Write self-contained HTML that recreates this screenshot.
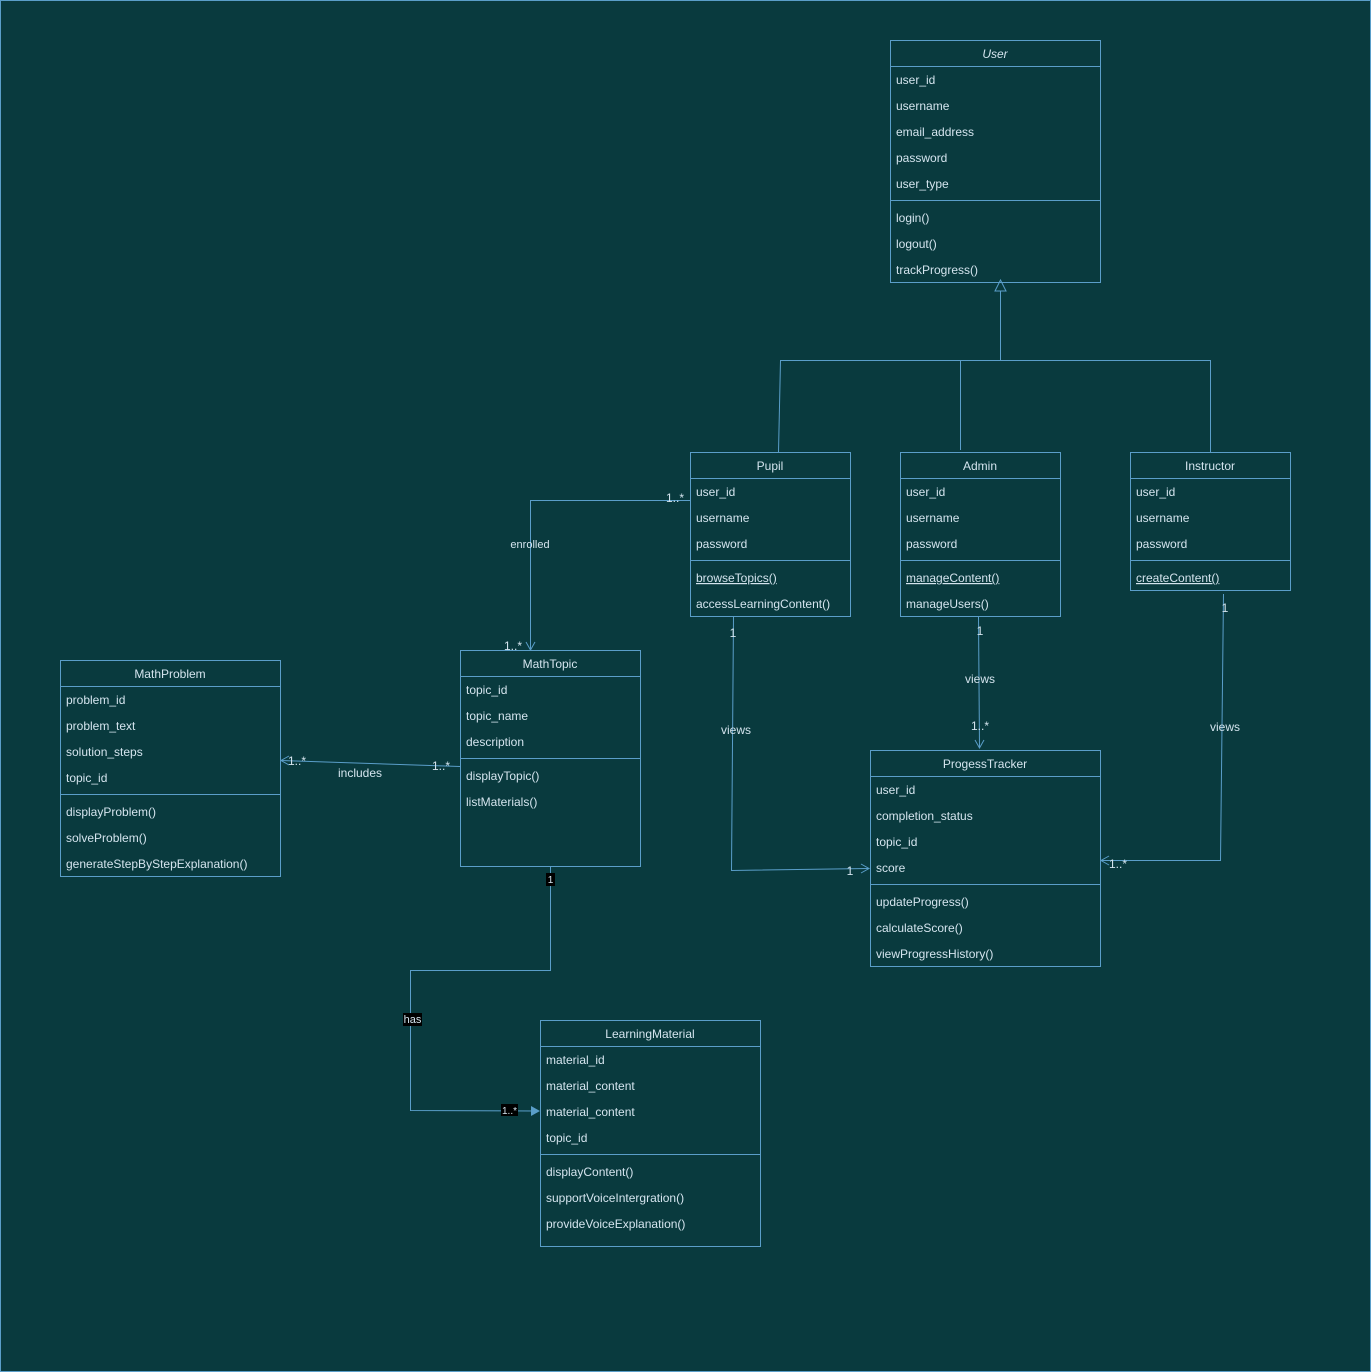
<!DOCTYPE html>
<html><head><meta charset="utf-8"><style>
html,body{margin:0;padding:0;background:#093a3e;}
svg{display:block;}
text{font-family:"Liberation Sans",sans-serif;font-size:12px;fill:#d4e4ee;}
</style></head><body>
<svg width="1371" height="1372" viewBox="0 0 1371 1372" xmlns="http://www.w3.org/2000/svg">
<rect x="0.5" y="0.5" width="1370" height="1371" fill="#093a3e" stroke="#5a9ec9"/>
<g fill="none" stroke="#5a9ec9" stroke-width="1">
<!-- User -->
<rect x="890.5" y="40.5" width="210" height="242"/><line x1="890" y1="66.5" x2="1100" y2="66.5"/><line x1="890" y1="200.5" x2="1100" y2="200.5"/>
<!-- Pupil -->
<rect x="690.5" y="452.5" width="160" height="164"/><line x1="690" y1="478.5" x2="850" y2="478.5"/><line x1="690" y1="560.5" x2="850" y2="560.5"/>
<!-- Admin -->
<rect x="900.5" y="452.5" width="160" height="164"/><line x1="900" y1="478.5" x2="1060" y2="478.5"/><line x1="900" y1="560.5" x2="1060" y2="560.5"/>
<!-- Instructor -->
<rect x="1130.5" y="452.5" width="160" height="138"/><line x1="1130" y1="478.5" x2="1290" y2="478.5"/><line x1="1130" y1="560.5" x2="1290" y2="560.5"/>
<!-- MathTopic -->
<rect x="460.5" y="650.5" width="180" height="216"/><line x1="460" y1="676.5" x2="640" y2="676.5"/><line x1="460" y1="758.5" x2="640" y2="758.5"/>
<!-- MathProblem -->
<rect x="60.5" y="660.5" width="220" height="216"/><line x1="60" y1="686.5" x2="280" y2="686.5"/><line x1="60" y1="794.5" x2="280" y2="794.5"/>
<!-- ProgessTracker -->
<rect x="870.5" y="750.5" width="230" height="216"/><line x1="870" y1="776.5" x2="1100" y2="776.5"/><line x1="870" y1="884.5" x2="1100" y2="884.5"/>
<!-- LearningMaterial -->
<rect x="540.5" y="1020.5" width="220" height="226"/><line x1="540" y1="1046.5" x2="760" y2="1046.5"/><line x1="540" y1="1154.5" x2="760" y2="1154.5"/>

<!-- inheritance -->
<polyline points="778.5,452 780.5,360.5 1210.5,360.5 1210.5,452"/>
<line x1="960.5" y1="360" x2="960.5" y2="450"/>
<line x1="1000.5" y1="360" x2="1000.5" y2="291"/>
<polygon points="1000.5,280 995,291 1006,291"/>
<!-- enrolled -->
<polyline points="690,500.5 530.5,500.5 530.5,650"/>
<polyline points="526,642 530.5,650 535,642"/>
<!-- pupil views -->
<polyline points="733.5,617 731.5,870.5 868,868.5"/>
<polyline points="861,864 869,868.5 861,873"/>
<!-- admin views -->
<line x1="978.5" y1="617" x2="979.5" y2="748"/>
<polyline points="975,740 979.5,748 984,740"/>
<!-- instructor views -->
<polyline points="1223.5,594 1220.5,860.5 1101,860.5"/>
<polyline points="1109,856 1101,860.5 1109,865"/>
<!-- includes -->
<line x1="460" y1="766.5" x2="281" y2="760.5"/>
<polyline points="289,756 281,760.5 289,765"/>
<!-- has -->
<polyline points="550.5,866 550.5,970.5 410.5,970.5 410.5,1110.5 538,1111"/>
</g>
<polygon points="540,1111 531,1106 531,1116" fill="#5a9ec9"/>

<g text-anchor="middle">
<text x="995" y="58" font-style="italic">User</text>
<text x="770" y="470">Pupil</text>
<text x="980" y="470">Admin</text>
<text x="1210" y="470">Instructor</text>
<text x="550" y="668">MathTopic</text>
<text x="170" y="678">MathProblem</text>
<text x="985" y="768">ProgessTracker</text>
<text x="650" y="1038">LearningMaterial</text>
</g>
<g>
<text x="896" y="84">user_id</text><text x="896" y="110">username</text><text x="896" y="136">email_address</text><text x="896" y="162">password</text><text x="896" y="188">user_type</text>
<text x="896" y="222">login()</text><text x="896" y="248">logout()</text><text x="896" y="274">trackProgress()</text>

<text x="696" y="496">user_id</text><text x="696" y="522">username</text><text x="696" y="548">password</text>
<text x="696" y="582" text-decoration="underline">browseTopics()</text><text x="696" y="608">accessLearningContent()</text>

<text x="906" y="496">user_id</text><text x="906" y="522">username</text><text x="906" y="548">password</text>
<text x="906" y="582" text-decoration="underline">manageContent()</text><text x="906" y="608">manageUsers()</text>

<text x="1136" y="496">user_id</text><text x="1136" y="522">username</text><text x="1136" y="548">password</text>
<text x="1136" y="582" text-decoration="underline">createContent()</text>

<text x="466" y="694">topic_id</text><text x="466" y="720">topic_name</text><text x="466" y="746">description</text>
<text x="466" y="780">displayTopic()</text><text x="466" y="806">listMaterials()</text>

<text x="66" y="704">problem_id</text><text x="66" y="730">problem_text</text><text x="66" y="756">solution_steps</text><text x="66" y="782">topic_id</text>
<text x="66" y="816">displayProblem()</text><text x="66" y="842">solveProblem()</text><text x="66" y="868">generateStepByStepExplanation()</text>

<text x="876" y="794">user_id</text><text x="876" y="820">completion_status</text><text x="876" y="846">topic_id</text><text x="876" y="872">score</text>
<text x="876" y="906">updateProgress()</text><text x="876" y="932">calculateScore()</text><text x="876" y="958">viewProgressHistory()</text>

<text x="546" y="1064">material_id</text><text x="546" y="1090">material_content</text><text x="546" y="1116">material_content</text><text x="546" y="1142">topic_id</text>
<text x="546" y="1176">displayContent()</text><text x="546" y="1202">supportVoiceIntergration()</text><text x="546" y="1228">provideVoiceExplanation()</text>
</g>
<g text-anchor="middle" style="font-size:10px">
<text x="530" y="548" style="font-size:11px">enrolled</text>
<text x="675" y="502">1..*</text>
<text x="513" y="650">1..*</text>
<text x="733" y="637">1</text>
<text x="736" y="734">views</text>
<text x="850" y="875">1</text>
<text x="980" y="635">1</text>
<text x="980" y="683">views</text>
<text x="980" y="730">1..*</text>
<text x="1225" y="612">1</text>
<text x="1225" y="731">views</text>
<text x="1118" y="868">1..*</text>
<text x="441" y="770">1..*</text>
<text x="297" y="765">1..*</text>
</g>
<text x="360" y="777" text-anchor="middle">includes</text>
<rect x="546" y="873" width="9" height="13" fill="#000"/>
<text x="550.5" y="883" text-anchor="middle" style="font-size:10px">1</text>
<rect x="403" y="1013" width="19" height="13" fill="#000"/>
<text x="412.5" y="1023" text-anchor="middle" style="font-size:11px">has</text>
<rect x="501" y="1104" width="17" height="12" fill="#000"/>
<text x="509.5" y="1114" text-anchor="middle" style="font-size:10px">1..*</text>
</svg>
</body></html>
